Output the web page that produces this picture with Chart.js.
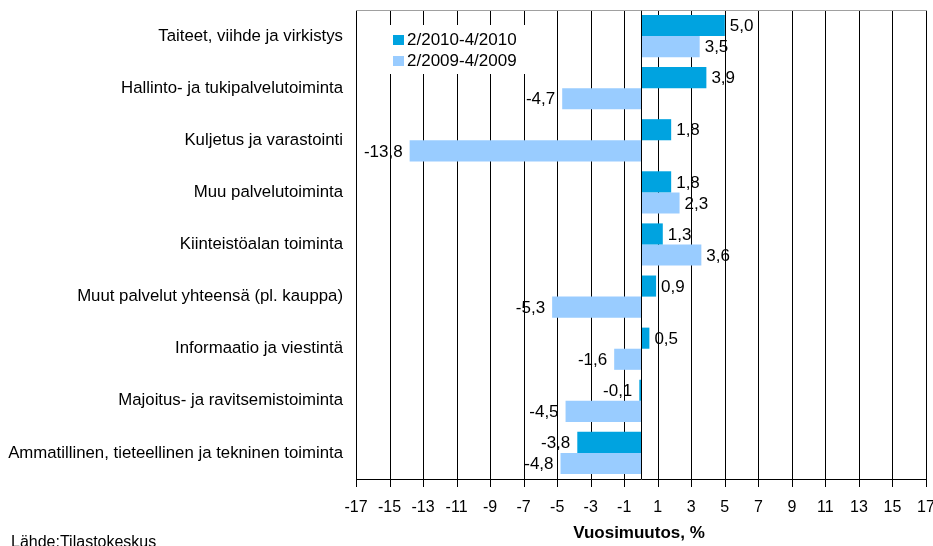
<!DOCTYPE html>
<html><head><meta charset="utf-8">
<script src="https://cdn.jsdelivr.net/npm/chart.js@4"></script>
<style>html,body{margin:0;padding:0;background:#fff}canvas{display:block}</style>
</head><body>
<canvas id="c" width="933" height="546"></canvas>
<script>
const categories = [
  'Taiteet, viihde ja virkistys',
  'Hallinto- ja tukipalvelutoiminta',
  'Kuljetus ja varastointi',
  'Muu palvelutoiminta',
  'Kiinteistöalan toiminta',
  'Muut palvelut yhteensä (pl. kauppa)',
  'Informaatio ja viestintä',
  'Majoitus- ja ravitsemistoiminta',
  'Ammatillinen, tieteellinen ja tekninen toiminta'
];
const series2010 = [5.0, 3.9, 1.8, 1.8, 1.3, 0.9, 0.5, -0.1, -3.8];
const series2009 = [3.5, -4.7, -13.8, 2.3, 3.6, -5.3, -1.6, -4.5, -4.8];
const seriesLabels = ['2/2010-4/2010', '2/2009-4/2009'];
const xTicks = [-17, -15, -13, -11, -9, -7, -5, -3, -1, 1, 3, 5, 7, 9, 11, 13, 15, 17];
const axisTitle = 'Vuosimuutos, %';
const sourceText = 'Lähde:Tilastokeskus';

const FONT = "'Liberation Sans', Arial, sans-serif";
const colors = ['#00a3e0', '#99ccff'];
const fmt = v => v.toFixed(1).replace('.', ',');

const valueLabels = {
  id: 'valueLabels',
  beforeDraw(chart) {
    const ctx = chart.ctx;
    ctx.save();
    ctx.font = '17px ' + FONT;
    ctx.fillStyle = '#000';
    ctx.textBaseline = 'middle';
    chart.data.datasets.forEach((ds, di) => {
      const meta = chart.getDatasetMeta(di);
      meta.data.forEach((bar, i) => {
        const v = ds.data[i];
        const t = fmt(v);
        if (v >= 0) { ctx.textAlign = 'left'; ctx.fillText(t, bar.x + 5, bar.y + 1); }
        else { ctx.textAlign = 'right'; ctx.fillText(t, bar.x - 7, bar.y + 1); }
      });
    });
    ctx.restore();
  }
};

const gridAndLegend = {
  id: 'gridAndLegend',
  beforeDatasetsDraw(chart) {
    const ctx = chart.ctx, a = chart.chartArea, xs = chart.scales.x;
    ctx.save();
    ctx.strokeStyle = '#000';
    ctx.lineWidth = 1;
    ctx.beginPath();
    xTicks.forEach(v => {
      const x = Math.round(xs.getPixelForValue(v)) + 0.5;
      ctx.moveTo(x, a.top); ctx.lineTo(x, a.bottom + 8);
    });
    ctx.stroke();
    ctx.fillStyle = '#fff';
    ctx.fillRect(386, 25, 158, 49);
    ctx.font = '17px ' + FONT;
    ctx.textBaseline = 'middle';
    ctx.textAlign = 'left';
    chart.data.datasets.forEach((ds, i) => {
      const y = 35 + i * 21;
      ctx.fillStyle = ds.backgroundColor;
      ctx.fillRect(393, y, 11, 10);
      ctx.fillStyle = '#000';
      ctx.fillText(ds.label, 407, y + 5.5);
    });
    ctx.restore();
  }
};

const extras = {
  id: 'extras',
  afterDatasetsDraw(chart) {
    const ctx = chart.ctx, a = chart.chartArea;
    const x0 = Math.round(chart.scales.x.getPixelForValue(0)) + 0.5;
    ctx.save();
    ctx.strokeStyle = '#000';
    ctx.lineWidth = 1;
    ctx.beginPath(); ctx.moveTo(x0, a.top); ctx.lineTo(x0, a.bottom); ctx.stroke();
    ctx.strokeStyle = '#a0a0a0';
    ctx.beginPath(); ctx.moveTo(a.left, a.top + 0.5); ctx.lineTo(a.right + 1, a.top + 0.5); ctx.stroke();
    ctx.restore();
  },
  afterDraw(chart) {
    const ctx = chart.ctx, a = chart.chartArea;
    ctx.save();
    ctx.fillStyle = '#000';
    ctx.textAlign = 'center';
    ctx.textBaseline = 'alphabetic';
    ctx.font = 'bold 17px ' + FONT;
    ctx.fillText(axisTitle, (a.left + a.right) / 2 - 2, 538);
    ctx.font = '16px ' + FONT;
    ctx.textAlign = 'left';
    ctx.fillText(sourceText, 11, 547);
    ctx.restore();
  }
};

new Chart(document.getElementById('c'), {
  type: 'bar',
  data: {
    labels: categories,
    datasets: [
      { label: seriesLabels[0], data: series2010, backgroundColor: colors[0] },
      { label: seriesLabels[1], data: series2009, backgroundColor: colors[1] }
    ]
  },
  options: {
    indexAxis: 'y',
    responsive: false,
    animation: false,
    devicePixelRatio: 1,
    layout: { padding: { top: 10, right: 7, left: 0, bottom: 0 } },
    datasets: { bar: { categoryPercentage: 0.81, barPercentage: 1.0 } },
    plugins: { legend: { display: false }, tooltip: { enabled: false } },
    scales: {
      x: {
        type: 'linear',
        min: -17, max: 17,
        afterBuildTicks: s => { s.ticks = xTicks.map(v => ({ value: v })); },
        afterFit: s => { s.height = 67; s.paddingLeft = 0; s.paddingRight = 0; },
        grid: { color: 'rgba(0,0,0,0)', lineWidth: 1, tickLength: 8, drawTicks: true, drawOnChartArea: false },
        border: { color: '#000', width: 1 },
        ticks: {
          font: { family: FONT, size: 16 }, color: '#000', padding: 11,
          maxRotation: 0, autoSkip: false,
          callback: v => String(v)
        }
      },
      y: {
        afterFit: s => { s.width = 356; s.paddingTop = 0; s.paddingBottom = 0; },
        grid: { display: false, drawTicks: false },
        border: { color: '#000', width: 1 },
        ticks: { font: { family: FONT, size: 16.8 }, color: '#000', padding: 13, autoSkip: false }
      }
    }
  },
  plugins: [valueLabels, gridAndLegend, extras]
});
</script>
</body></html>
